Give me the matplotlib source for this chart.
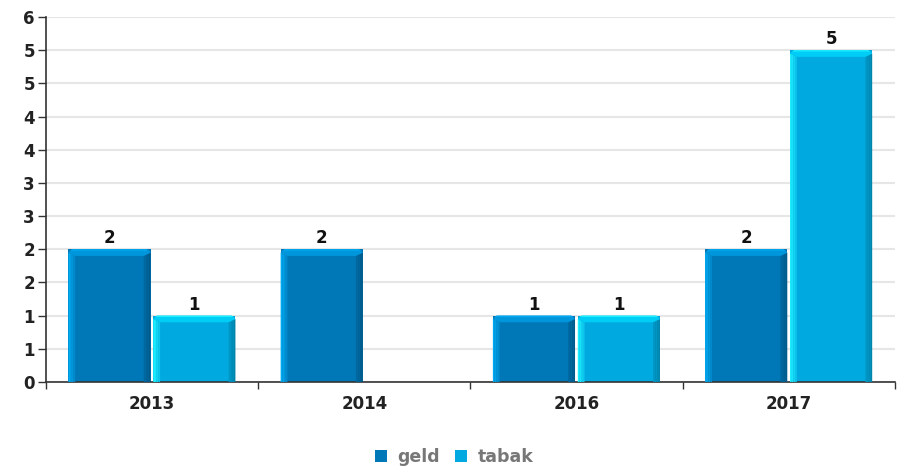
# Staafdiagram geld / tabak per jaar
import matplotlib.pyplot as plt
import numpy as np
from matplotlib.patches import Polygon
from matplotlib.ticker import FuncFormatter, MultipleLocator

# data
jaren = ['2013', '2014', '2016', '2017']
geld = [2, 2, 1, 2]
tabak = [1, 0, 1, 5]

series = ['geld', 'tabak']
kleur = {'geld': '#0077b6', 'tabak': '#00aae0'}
licht = {'geld': '#00aaf2', 'tabak': '#1ff0ff'}
donker = {'geld': '#005a8a', 'tabak': '#0084ac'}
boven = {'geld': '#0096dc', 'tabak': '#00cdf6'}


def mix(c1, c2, t):
    a = np.array(plt.matplotlib.colors.to_rgb(c1))
    b = np.array(plt.matplotlib.colors.to_rgb(c2))
    return tuple(a + (b - a) * t)


fig = plt.figure(figsize=(9.03, 4.69), dpi=100)
ax = fig.add_axes([46/903, 1-382/469, 849/903, 365/469])

x = np.arange(len(jaren))
w = 0.387
offs = {'geld': -0.201, 'tabak': 0.199}

bw = 0.032  # bevel in x (data)
bh = 0.10   # bevel in y (data)
stappen = 4

for naam, vals in zip(series, [geld, tabak]):
    bars = ax.bar(x + offs[naam], vals, width=w, color=kleur[naam],
                  linewidth=0, zorder=2, label=naam)
    for b, v in zip(bars, vals):
        if v == 0:
            b.set_visible(False)
            continue
        x0, x1, h = b.get_x(), b.get_x() + b.get_width(), b.get_height()
        # bevel in a few steps, from the edge inward
        for i in range(stappen):
            f0 = i / stappen
            f1 = (i + 1) / stappen
            t = i / stappen
            ax.add_patch(Polygon([(x0 + bw*f0, 0), (x0 + bw*f1, 0),
                                  (x0 + bw*f1, h - bh*(0.5 + 0.5*f1)),
                                  (x0 + bw*f0, h - bh*(0.5 + 0.5*f0))],
                                 closed=True, fc=mix(licht[naam], kleur[naam], t*0.8),
                                 lw=0, zorder=3))
            ax.add_patch(Polygon([(x1 - bw*f0, 0), (x1 - bw*f1, 0),
                                  (x1 - bw*f1, h - bh*(0.5 + 0.5*f1)),
                                  (x1 - bw*f0, h - bh*(0.5 + 0.5*f0))],
                                 closed=True, fc=mix(kleur[naam], donker[naam], 1 - t*0.6),
                                 lw=0, zorder=3))
        # top band
        ax.add_patch(Polygon([(x0, h - bh*0.5), (x0 + bw*0.5, h), (x1 - bw*0.5, h),
                              (x1, h - bh*0.5), (x1 - bw, h - bh), (x0 + bw, h - bh)],
                             closed=True, fc=boven[naam], lw=0, zorder=3))
        ax.add_patch(Polygon([(x0 + bw*0.3, h - bh*0.2), (x0 + bw*0.6, h), (x1 - bw*0.6, h),
                              (x1 - bw*0.3, h - bh*0.2)],
                             closed=True, fc=licht[naam], lw=0, zorder=3))
        ax.text(b.get_x() + b.get_width()/2, h + 0.03, str(v), ha='center', va='bottom',
                fontsize=12, fontweight='bold', color='#111111', zorder=4)

ax.set_xlim(-0.5, len(jaren) - 0.5)
ax.set_ylim(0, 5.5)
ax.yaxis.set_major_locator(MultipleLocator(0.5))
ax.yaxis.set_major_formatter(FuncFormatter(lambda t, p: str(int(np.floor(t + 0.5)))))
ax.grid(axis='y', color='#e6e6e6', linewidth=1.5, zorder=0)
ax.set_axisbelow(True)

ax.set_xticks(x)
ax.set_xticklabels(jaren)
ax.set_xticks(np.arange(len(jaren) + 1) - 0.5, minor=True)
ax.tick_params(axis='x', which='major', length=0, pad=9)
ax.tick_params(axis='x', which='minor', length=5, width=1, color='#333333')
ax.tick_params(axis='y', length=6, width=1, color='#333333', pad=2)
for lab in ax.get_xticklabels() + ax.get_yticklabels():
    lab.set_fontweight('bold')
    lab.set_fontsize(12)
    lab.set_color('#222222')

for s in ['top', 'right']:
    ax.spines[s].set_visible(False)
ax.spines['left'].set_color('#333333')
ax.spines['bottom'].set_color('#333333')
ax.spines['left'].set_linewidth(1.2)
ax.spines['bottom'].set_linewidth(1.2)

handles = [plt.Line2D([], [], marker='s', ls='', markersize=9,
                      markerfacecolor=kleur[n], markeredgewidth=0) for n in series]
leg = fig.legend(handles, series, loc='center', bbox_to_anchor=(0.5, 1 - 457/469),
                 ncol=2, frameon=False, handletextpad=0.3, columnspacing=0.6,
                 handlelength=1.3, prop={'weight': 'bold', 'size': 12.5})
for t in leg.get_texts():
    t.set_color('#777777')

fig.savefig('out.png', dpi=100)
